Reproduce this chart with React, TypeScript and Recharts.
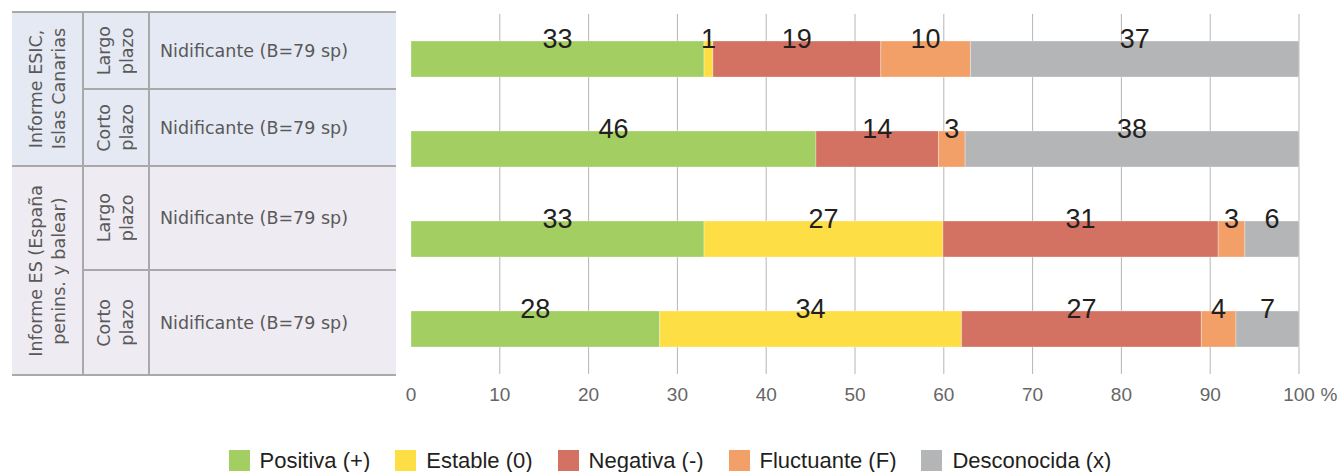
import React from 'react'
import { BarChart, Bar, XAxis, YAxis, CartesianGrid, LabelList } from 'recharts'

// filas (de arriba abajo)
const CATEGORIES = ['ESIC largo plazo', 'ESIC corto plazo', 'ES largo plazo', 'ES corto plazo']
const GROUPS = ['Informe ESIC,\nIslas Canarias', 'Informe ES (España\npenins. y balear)']
const PERIODS = ['Largo\nplazo', 'Corto\nplazo', 'Largo\nplazo', 'Corto\nplazo']
const SUBJECTS = [
  'Nidificante (B=79 sp)',
  'Nidificante (B=79 sp)',
  'Nidificante (B=79 sp)',
  'Nidificante (B=79 sp)',
]

// porcentajes por tendencia
const POSITIVA = [33, 45.6, 33, 28]
const ESTABLE = [1, 0, 26.9, 34]
const NEGATIVA = [18.9, 13.8, 31, 27]
const FLUCTUANTE = [10.1, 3, 3, 3.9]
const DESCONOCIDA = [37, 37.6, 6.1, 7.1]

const X_TICKS = [0, 10, 20, 30, 40, 50, 60, 70, 80, 90, 100]
const GRID_TICKS = [10, 20, 30, 40, 50, 60, 70, 80, 90, 100]

const SERIES = [
  { key: 'positiva', name: 'Positiva (+)', color: '#a3ce62', values: POSITIVA },
  { key: 'estable', name: 'Estable (0)', color: '#fddf45', values: ESTABLE },
  { key: 'negativa', name: 'Negativa (-)', color: '#d37262', values: NEGATIVA },
  { key: 'fluctuante', name: 'Fluctuante (F)', color: '#f2a068', values: FLUCTUANTE },
  { key: 'desconocida', name: 'Desconocida (x)', color: '#b3b5b7', values: DESCONOCIDA },
]

const rows = CATEGORIES.map((name, i) => {
  const row: Record<string, string | number> = { name }
  SERIES.forEach((s) => {
    row[s.key] = s.values[i]
  })
  return row
})

const W = 1340
const H = 472
const FONT = "'Liberation Sans', Arial, sans-serif"
const TABLE_FONT = "'DejaVu Sans', Verdana, sans-serif"

// tabla de la izquierda
const T_LEFT = 12
const T_COL1 = 83
const T_COL2 = 149
const T_RIGHT = 396
const ROW_EDGES = [12, 89, 166, 270, 375]
const GROUP_EDGES = [12, 166, 375]
const GROUP_BG = ['#e5e9f4', '#eeebf2']
const LINE = '#a9a9a9'

function ValueLabel(props: any) {
  const { x, y, width } = props
  let v = props.value
  if (Array.isArray(v)) v = v[1] - v[0]
  if (!v) return null
  return (
    <text
      x={Number(x) + Number(width) / 2}
      y={Number(y) + 7}
      textAnchor="middle"
      fontSize={27}
      fontFamily={FONT}
      fill="#231f20"
    >
      {Math.round(v)}
    </text>
  )
}

function Tick(props: any) {
  const { x, y, payload } = props
  return (
    <g>
      <text x={x} y={y} dy="0.71em" textAnchor="middle" fontSize={19} fontFamily={FONT} fill="#666">
        {payload.value}
      </text>
      {payload.value === 100 && (
        <text x={x + 30} y={y} dy="0.71em" textAnchor="middle" fontSize={19} fontFamily={FONT} fill="#666">
          %
        </text>
      )}
    </g>
  )
}

function Rotated({ text, left, top, width, height }: { text: string; left: number; top: number; width: number; height: number }) {
  return (
    <div
      style={{
        position: 'absolute',
        left,
        top,
        width,
        height,
        display: 'flex',
        alignItems: 'center',
        justifyContent: 'center',
      }}
    >
      <div
        style={{
          writingMode: 'vertical-rl',
          transform: 'rotate(180deg)',
          whiteSpace: 'pre',
          textAlign: 'center',
          lineHeight: '23px',
          fontSize: 17.5,
          fontFamily: TABLE_FONT,
          color: '#595959',
        }}
      >
        {text}
      </div>
    </div>
  )
}

function SideTable() {
  const lines: React.ReactElement[] = []
  const hLine = (y: number, x1: number, x2: number, k: string) => (
    <div key={k} style={{ position: 'absolute', left: x1, top: y - 1, width: x2 - x1, height: 2, background: LINE }} />
  )
  GROUP_EDGES.forEach((y, i) => lines.push(hLine(y, T_LEFT, T_RIGHT, 'g' + i)))
  ;[ROW_EDGES[1], ROW_EDGES[3]].forEach((y, i) => lines.push(hLine(y, T_COL1, T_RIGHT, 'r' + i)))
  ;[T_COL1, T_COL2].forEach((x, i) =>
    lines.push(
      <div
        key={'v' + i}
        style={{ position: 'absolute', left: x - 1, top: T_LEFT, width: 2, height: ROW_EDGES[4] - ROW_EDGES[0], background: LINE }}
      />
    )
  )
  return (
    <>
      {GROUP_BG.map((bg, i) => (
        <div
          key={'bg' + i}
          style={{
            position: 'absolute',
            left: T_LEFT,
            top: GROUP_EDGES[i],
            width: T_RIGHT - T_LEFT,
            height: GROUP_EDGES[i + 1] - GROUP_EDGES[i],
            background: bg,
          }}
        />
      ))}
      {GROUPS.map((g, i) => (
        <Rotated
          key={'grp' + i}
          text={g}
          left={T_LEFT}
          top={GROUP_EDGES[i]}
          width={T_COL1 - T_LEFT}
          height={GROUP_EDGES[i + 1] - GROUP_EDGES[i]}
        />
      ))}
      {PERIODS.map((p, i) => (
        <Rotated
          key={'per' + i}
          text={p}
          left={T_COL1}
          top={ROW_EDGES[i]}
          width={T_COL2 - T_COL1}
          height={ROW_EDGES[i + 1] - ROW_EDGES[i]}
        />
      ))}
      {SUBJECTS.map((s, i) => (
        <div
          key={'sub' + i}
          style={{
            position: 'absolute',
            left: T_COL2 + 11,
            top: ROW_EDGES[i],
            height: ROW_EDGES[i + 1] - ROW_EDGES[i],
            display: 'flex',
            alignItems: 'center',
            fontSize: 17.5,
            fontFamily: TABLE_FONT,
            color: '#595959',
            whiteSpace: 'nowrap',
          }}
        >
          {s}
        </div>
      ))}
      {lines}
    </>
  )
}

function LegendRow() {
  return (
    <div
      style={{
        position: 'absolute',
        left: 0,
        top: 450,
        width: W,
        display: 'flex',
        justifyContent: 'center',
        gap: 25,
        fontFamily: FONT,
        fontSize: 22,
        color: '#231f20',
      }}
    >
      {SERIES.map((s) => (
        <div key={s.key} style={{ display: 'flex', alignItems: 'center', height: 21 }}>
          <span style={{ display: 'inline-block', width: 21, height: 21, background: s.color, marginRight: 10 }} />
          <span style={{ lineHeight: '21px' }}>{s.name}</span>
        </div>
      ))}
    </div>
  )
}

export default function App() {
  return (
    <div style={{ position: 'absolute', left: 0, top: 0, width: W, height: H, background: '#fff', overflow: 'hidden' }}>
      <SideTable />
      <div style={{ position: 'absolute', left: 0, top: 0 }}>
        <BarChart
          width={W}
          height={H}
          data={rows}
          layout="vertical"
          margin={{ top: 14, right: 41, bottom: 68, left: 411 }}
          barCategoryGap={0}
        >
          <CartesianGrid
            horizontal={false}
            stroke="#b5b5b5"
            verticalCoordinatesGenerator={({ xAxis, offset }: any) =>
              GRID_TICKS.map((t) =>
                xAxis && typeof xAxis.scale === 'function'
                  ? xAxis.scale(t)
                  : offset.left + (offset.width * t) / 100
              )
            }
          />
          <XAxis
            type="number"
            domain={[0, 100]}
            ticks={X_TICKS}
            axisLine={false}
            tickLine={false}
            tickSize={0}
            tickMargin={14}
            height={30}
            tick={<Tick />}
            interval={0}
          />
          <YAxis type="category" dataKey="name" hide />
          {SERIES.map((s) => (
            <Bar
              key={s.key}
              dataKey={s.key}
              name={s.name}
              stackId="a"
              fill={s.color}
              stroke="#ffffff"
              strokeOpacity={0.3}
              strokeWidth={1}
              barSize={36}
              isAnimationActive={false}
            >
              <LabelList dataKey={s.key} content={<ValueLabel />} />
            </Bar>
          ))}
        </BarChart>
      </div>
      <LegendRow />
    </div>
  )
}
